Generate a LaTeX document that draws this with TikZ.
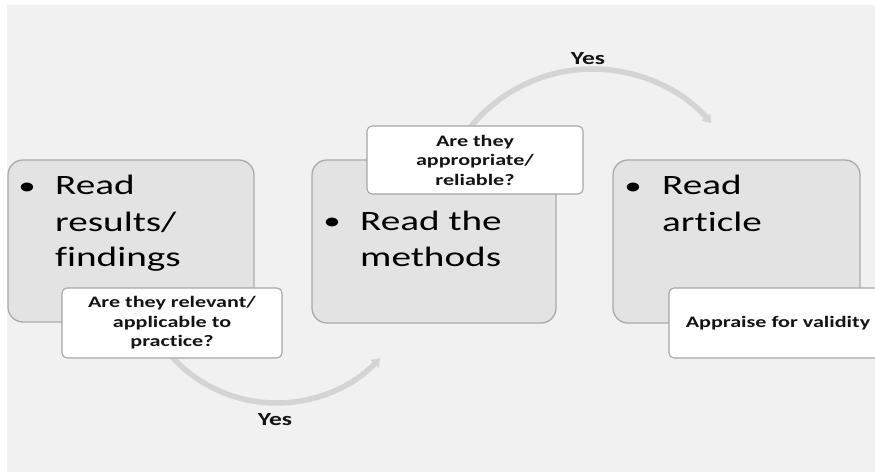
\documentclass[tikz,border=0pt]{standalone}
\usepackage{fontspec}
\usetikzlibrary{arrows.meta}
\newfontfamily\boxfont[FakeStretch=1.4,Ligatures=NoCommon]{Carlito}
\newfontfamily\calfont[FakeStretch=1.38,Ligatures=NoCommon]{Carlito}
\definecolor{bggray}{HTML}{F1F1F1}
\definecolor{boxfill}{HTML}{E3E3E3}
\definecolor{boxline}{HTML}{ABABAB}
\definecolor{calline}{HTML}{A6A6A6}
\definecolor{arcgray}{HTML}{D4D4D4}
\definecolor{txt}{HTML}{141414}
\tikzset{
  stepbox/.style={draw=boxline, fill=boxfill, line width=1.3pt, rounded corners=15pt, inner sep=0pt},
  callbox/.style={draw=calline, fill=white, line width=1.1pt, rounded corners=5pt, inner sep=0pt,
    align=center, text=txt, font=\calfont\bfseries\fontsize{16}{19.5}\selectfont},
  bul/.style={inner sep=0pt, anchor=base, text=black, font=\boxfont\fontsize{25}{36}\selectfont},
  btxt/.style={inner sep=0pt, anchor=base west, text=black, font=\boxfont\fontsize{28}{36}\selectfont},
  yeslbl/.style={inner sep=0pt, anchor=base, text=txt, font=\calfont\bfseries\fontsize{18.5}{22}\selectfont},
  flow/.style={draw=arcgray, line width=5.5pt, -{Triangle[width=11pt,length=8pt]}}
}
\begin{document}
\begin{tikzpicture}[x=1pt,y=1pt]
\useasboundingbox (0,0) rectangle (875,472);
\fill[white] (0,0) rectangle (875,472);
\fill[bggray] (6.5,0) rectangle (875,467);
% arc centres
\coordinate (c1) at (276.5,210.5);
\coordinate (c2) at (592.5,245.7);
% curved arrows
\draw[flow] (c1) ++(-150:141.5) arc[start angle=-150, end angle=-43, radius=141.5];
\draw[flow] (c2) ++(146:157.3) arc[start angle=146, end angle=41, radius=157.3];
% main boxes
\node[stepbox, minimum width=246pt, minimum height=162pt] (b1) at (131,231) {};
\node[stepbox, minimum width=244pt, minimum height=163pt] (b2) at (434,230.5) {};
\node[stepbox, minimum width=247pt, minimum height=163pt] (b3) at (736.5,230.5) {};
% box texts
\node[bul] (u1) at (27,278) {•};
\node[btxt] (t1) at (55,277) {\begin{tabular}[t]{@{}l@{}}Read\\results/\\findings\end{tabular}};
\node[bul] (u2) at (332,243) {•};
\node[btxt] (t2) at (360,242) {\begin{tabular}[t]{@{}l@{}}Read the\\methods\end{tabular}};
\node[bul] (u3) at (633,278) {•};
\node[btxt] (t3) at (662,277) {\begin{tabular}[t]{@{}l@{}}Read\\article\end{tabular}};
% callouts
\node[callbox, minimum width=220pt, minimum height=70pt] (k1) at (172,149) {Are they relevant/\\applicable to\\practice?};
\node[callbox, minimum width=216pt, minimum height=68pt] (k2) at (475,312) {Are they\\appropriate/\\reliable?};
\begin{scope}
\clip (0,0) rectangle (875,472);
\node[callbox, minimum width=218pt, minimum height=70pt] (k3) at (778,149) {Appraise for validity};
\end{scope}
% labels
\node[yeslbl] (y1) at (275,47) {Yes};
\node[yeslbl] (y2) at (588,407) {Yes};
\end{tikzpicture}
\end{document}
